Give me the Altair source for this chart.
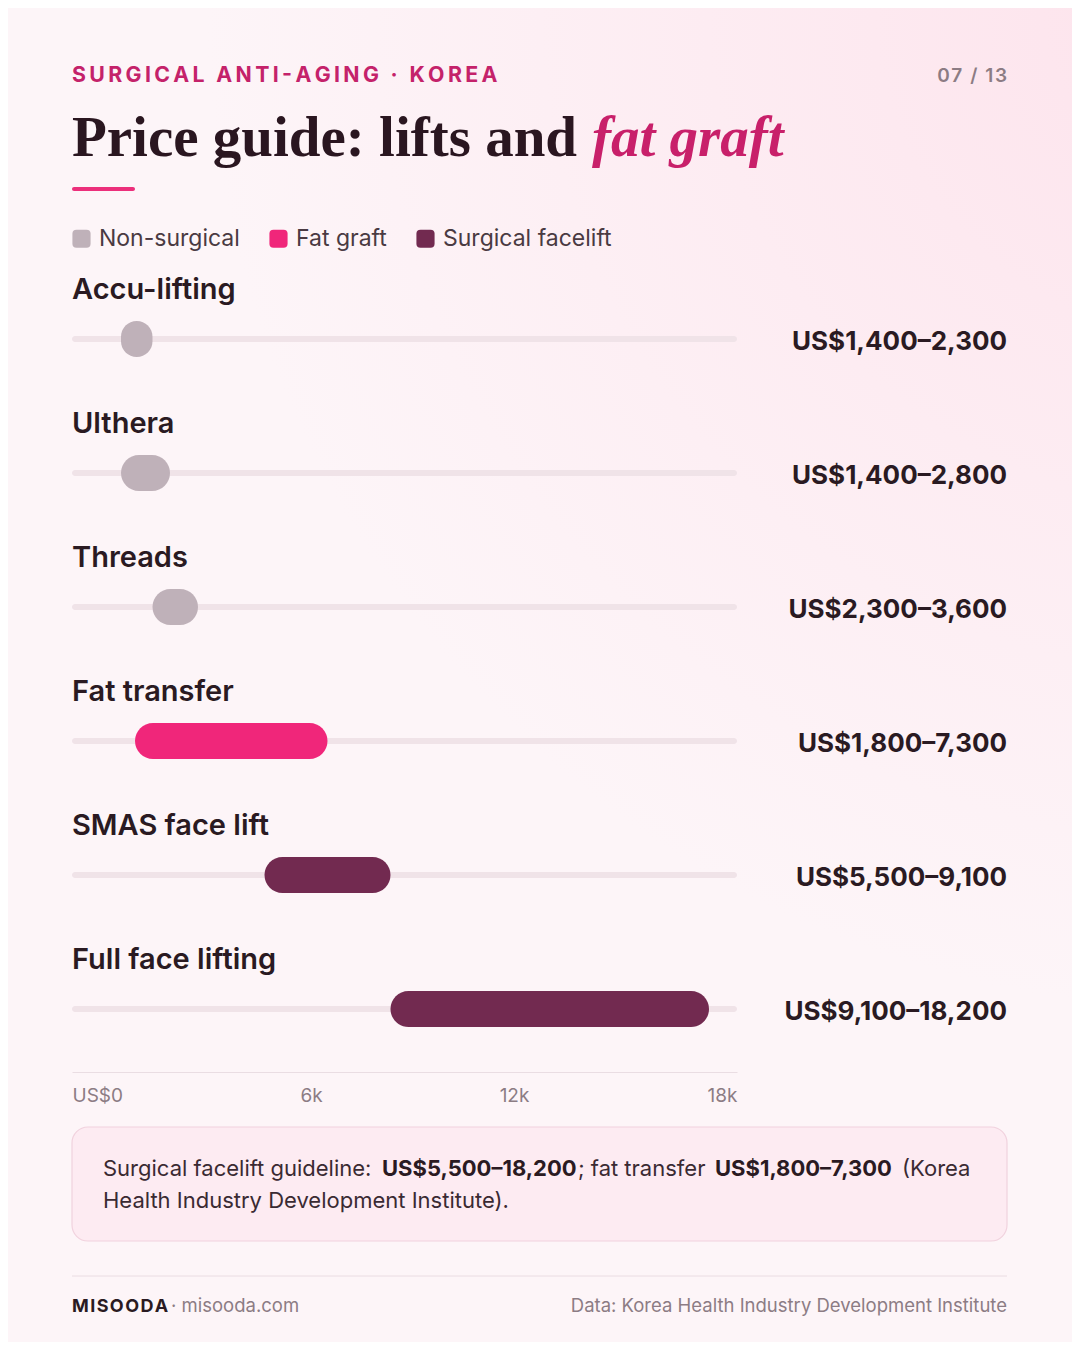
import altair as alt
import pandas as pd

# ---------------- data ----------------
procedures = ["Accu-lifting", "Ulthera", "Threads", "Fat transfer", "SMAS face lift", "Full face lifting"]
price_low = [1400, 1400, 2300, 1800, 5500, 9100]
price_high = [2300, 2800, 3600, 7300, 9100, 18200]
categories = ["Non-surgical", "Non-surgical", "Non-surgical", "Fat graft", "Surgical facelift", "Surgical facelift"]
price_labels = ["US$1,400–2,300", "US$1,400–2,800", "US$2,300–3,600",
                "US$1,800–7,300", "US$5,500–9,100", "US$9,100–18,200"]
legend_order = ["Non-surgical", "Fat graft", "Surgical facelift"]
legend_colors = ["#bfb1b9", "#f0267a", "#722a50"]
tick_values = [0, 6000, 12000, 18000]
x_max = 19000

df = pd.DataFrame({
    "procedure": procedures,
    "low": price_low,
    "high": price_high,
    "category": categories,
    "label": price_labels,
})

# page -> plot coordinates (plot origin at page 72, 8)
def px(x):
    return x - 72

def py(y):
    return y - 8

SANS = "Inter"
SERIF = "Liberation Serif"
INK = "#2a1a22"
MUTED = "#8c7c84"

x_axis = alt.Axis(
    values=tick_values, title=None, ticks=False, grid=False, zindex=1,
    domainColor="#eadde3", domainWidth=1,
    labelFont=SANS, labelFontSize=19, labelColor=MUTED, labelPadding=14,
    labelExpr="datum.value == 0 ? 'US$0' : (datum.value / 1000) + 'k'",
    labelAlign={"expr": "datum.value == 0 ? 'left' : datum.value == 18000 ? 'right' : 'center'"},
    labelOffset={"expr": "datum.value == 6000 ? 29 : datum.value == 12000 ? 22 : datum.value == 18000 ? 35 : 0"},
)
x_scale = alt.Scale(domain=[0, x_max], nice=False, zero=True)
y_enc = alt.Y("procedure:N", sort=procedures,
              scale=alt.Scale(type="point", domain=procedures, range=[py(339), py(1009)], padding=0),
              axis=None)

base = alt.Chart(df)

track = base.transform_calculate(t0="0", t1=str(x_max)).mark_bar(
    size=6, cornerRadius=3, color="#f0e3e8"
).encode(
    x=alt.X("t0:Q", scale=x_scale, axis=x_axis),
    x2="t1:Q",
    y=y_enc,
)

bars = base.mark_bar(size=36, cornerRadius=18).encode(
    x=alt.X("low:Q", scale=x_scale, axis=x_axis),
    x2="high:Q",
    y=y_enc,
    color=alt.Color(
        "category:N",
        scale=alt.Scale(domain=legend_order, range=legend_colors),
        legend=alt.Legend(
            orient="none", legendX=-2, legendY=py(227), direction="horizontal", title=None,
            symbolType="M-1,-0.55Q-1,-1,-0.55,-1L0.55,-1Q1,-1,1,-0.55L1,0.55Q1,1,0.55,1L-0.55,1Q-1,1,-1,0.55Z",
            symbolSize=330, symbolStrokeWidth=0, symbolOpacity=1,
            labelFont=SANS, labelFontSize=23, labelColor="#4a3a42", labelLimit=0,
            labelOffset=6, columnPadding=27, padding=0,
        ),
    ),
)

row_labels = base.mark_text(
    align="left", baseline="middle", dy=-49, font=SANS, fontSize=29, fontWeight=600, color=INK
).encode(x=alt.value(0), y=y_enc, text="procedure:N")

value_labels = base.mark_text(
    align="right", baseline="middle", dy=3, font=SANS, fontSize=26, fontWeight="bold", color=INK
).encode(x=alt.value(px(1007)), y=y_enc, text="label:N")


def txt(text, x, y, **kw):
    return alt.Chart(pd.DataFrame({"t": [text]})).mark_text(baseline="alphabetic", **kw).encode(
        x=alt.value(px(x)), y=alt.value(py(y)), text="t:N"
    )


def box(x1, x2, y1, y2, **kw):
    return alt.Chart(pd.DataFrame({"a": [0]})).mark_rect(**kw).encode(
        x=alt.value(px(x1)), x2=alt.value(px(x2)), y=alt.value(py(y1)), y2=alt.value(py(y2))
    )


gradient = {
    "gradient": "radial", "x1": 1, "y1": 0, "x2": 1, "y2": 0, "r1": 0, "r2": 0.75,
    "stops": [{"offset": 0, "color": "#fde3ec"}, {"offset": 1, "color": "#fdf5f8"}],
}
background = box(8, 1072, 8, 1342, fill=gradient)

thin = "\u2009"
hair = "\u200a"
kicker = thin.join("SURGICAL ANTI-AGING · KOREA")
page_no = hair.join("07 / 13")
brand = hair.join("MISOODA")

header = [
    txt(kicker, 72, 82, align="left", font=SANS, fontSize=21.3, fontWeight="bold", color="#c4226a"),
    txt(page_no, 1007, 82, align="right", font=SANS, fontSize=19, fontWeight=600, color=MUTED),
    txt("Price guide: lifts and", 72, 156, align="left", font=SERIF, fontSize=57, fontWeight="bold", color="#2a1620"),
    txt("fat graft", 592, 156, align="left", font=SERIF, fontSize=57, fontWeight="bold",
        fontStyle="italic", color="#c8206a"),
    box(72, 135, 187, 191, cornerRadius=2, color="#ec2f7b"),
]

note = [
    box(72, 1007, 1127, 1241, cornerRadius=16, fill="#fdebf2", stroke="#f1d2de", strokeWidth=1.2),
    txt("Surgical facelift guideline:", 103, 1176, align="left", font=SANS, fontSize=22, color="#3a2a32"),
    txt("US$5,500–18,200", 382, 1176, align="left", font=SANS, fontSize=22, fontWeight="bold", color=INK),
    txt("; fat transfer", 578, 1176, align="left", font=SANS, fontSize=22, color="#3a2a32"),
    txt("US$1,800–7,300", 715, 1176, align="left", font=SANS, fontSize=22, fontWeight="bold", color=INK),
    txt("(Korea", 902, 1176, align="left", font=SANS, fontSize=22, color="#3a2a32"),
    txt("Health Industry Development Institute).", 103, 1208, align="left", font=SANS, fontSize=22,
        color="#3a2a32"),
]

footer_rule = alt.Chart(pd.DataFrame({"a": [0]})).mark_rule(color="#eadce2", strokeWidth=1).encode(
    x=alt.value(0), x2=alt.value(px(1007)), y=alt.value(py(1276))
)
footer = [
    footer_rule,
    txt(brand, 72, 1312, align="left", font=SANS, fontSize=18, fontWeight="bold", color=INK),
    txt("· misooda.com", 171, 1312, align="left", font=SANS, fontSize=18.5, color=MUTED),
    txt("Data: Korea Health Industry Development Institute", 1007, 1312, align="right",
        font=SANS, fontSize=18.5, color=MUTED),
]

chart = alt.layer(
    background, track, bars, row_labels, value_labels, *header, *note, *footer
).properties(
    width=665, height=1064,
    padding={"left": 64, "top": 0, "right": 335, "bottom": 270},
    autosize=alt.AutoSizeParams(type="none"),
).configure(background="#fdf5f8").configure_view(stroke=None)

chart.save("out.html", embed_options={"renderer": "svg", "actions": False})
